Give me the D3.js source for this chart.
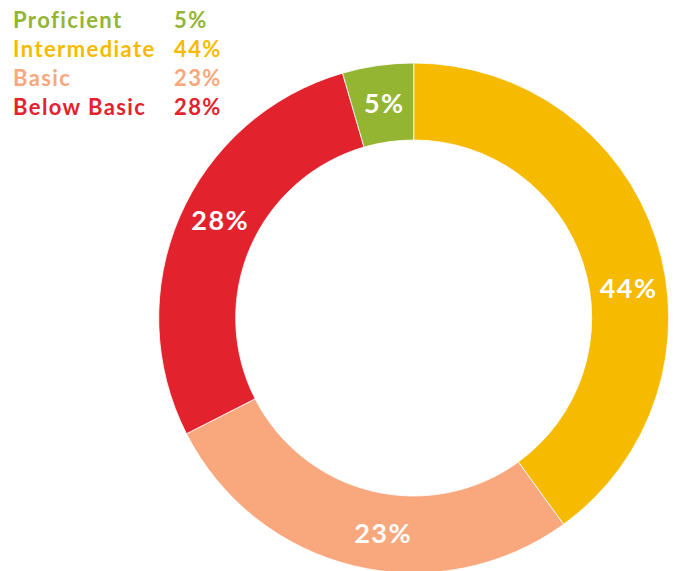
<!DOCTYPE html>
<html>
<head>
<meta charset="utf-8">
<script src="https://cdn.jsdelivr.net/npm/d3@7"></script>
<style>
    body { margin: 0; background: #fff; }
    svg { display: block; font-family: Lato, "Open Sans", sans-serif; }
</style>
</head>
<body>
<script>
// categories as listed in the legend (top to bottom)
var categories = ["Proficient", "Intermediate", "Basic", "Below Basic"];
// percentages printed on the chart
var shownPct = [5, 44, 23, 28];
// share of the ring each slice actually covers in the picture
var arcShare = [4.5, 40, 27.5, 28];
// order of slices going clockwise from 12 o'clock
var ringOrder = ["Intermediate", "Basic", "Below Basic", "Proficient"];

var colors = {
    "Proficient": "#93b532",
    "Intermediate": "#f6ba00",
    "Basic": "#f9a77c",
    "Below Basic": "#e2222d"
};

// where each slice label sits on the ring, degrees clockwise from top
// (hand placed in the original, not at the slice middle)
var labelDeg = {
    "Intermediate": 82.1,
    "Basic": 188.1,
    "Below Basic": 296.9,
    "Proficient": 352.2
};

var width = 675, height = 571;
var cx = 413.7, cy = 318, outerR = 255, innerR = 178, labelR = 217;

var svg = d3.select("body").append("svg")
    .attr("width", width)
    .attr("height", height);

var rows = categories.map(function (c, i) {
    return {key: c, pct: shownPct[i], share: arcShare[i]};
});
var byKey = {};
rows.forEach(function (d) { byKey[d.key] = d; });

var pie = d3.pie()
    .sort(null)
    .value(function (d) { return d.share; });

var arc = d3.arc()
    .innerRadius(innerR)
    .outerRadius(outerR);

var ring = svg.append("g")
    .attr("transform", "translate(" + cx + "," + cy + ")");

var slices = pie(ringOrder.map(function (k) { return byKey[k]; }));

ring.selectAll("path")
    .data(slices)
    .enter()
    .append("path")
    .attr("d", arc)
    .attr("fill", function (d) { return colors[d.data.key]; })
    .attr("stroke", "#fff")
    .attr("stroke-width", 0.8);

ring.selectAll("text")
    .data(slices)
    .enter()
    .append("text")
    .attr("x", function (d) {
        return labelR * Math.sin(labelDeg[d.data.key] * Math.PI / 180);
    })
    .attr("y", function (d) {
        return -labelR * Math.cos(labelDeg[d.data.key] * Math.PI / 180);
    })
    .attr("dy", "0.36em")
    .attr("text-anchor", "middle")
    .attr("fill", "#fff")
    .attr("font-size", "27px")
    .attr("font-weight", 700)
    .attr("letter-spacing", "1.4px")
    .text(function (d) { return d.data.pct + "%"; });

// legend, top left
var legend = svg.append("g");
var legendRow = d3.scalePoint()
    .domain(categories)
    .range([28, 115]);

legend.selectAll("text.name")
    .data(rows)
    .enter()
    .append("text")
    .attr("class", "name")
    .attr("x", 13)
    .attr("y", function (d) { return legendRow(d.key); })
    .attr("fill", function (d) { return colors[d.key]; })
    .attr("font-size", "22px")
    .attr("font-weight", 700)
    .attr("letter-spacing", "1.4px")
    .text(function (d) { return d.key; });

legend.selectAll("text.pct")
    .data(rows)
    .enter()
    .append("text")
    .attr("class", "pct")
    .attr("x", 174)
    .attr("y", function (d) { return legendRow(d.key); })
    .attr("fill", function (d) { return colors[d.key]; })
    .attr("font-size", "22px")
    .attr("font-weight", 700)
    .attr("letter-spacing", "1.4px")
    .text(function (d) { return d.pct + "%"; });
</script>
</body>
</html>
